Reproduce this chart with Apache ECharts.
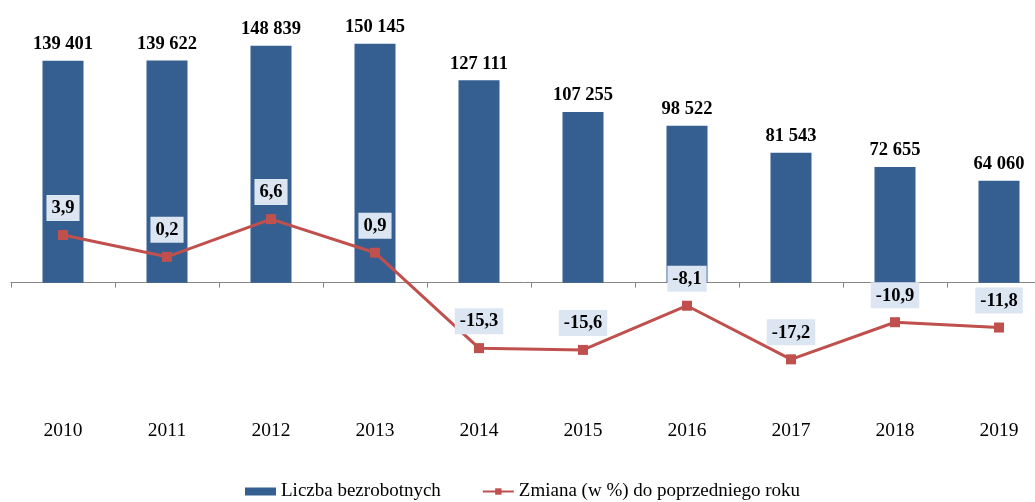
<!DOCTYPE html>
<html>
<head>
<meta charset="utf-8">
<script src="https://cdn.jsdelivr.net/npm/echarts@6/dist/echarts.min.js"></script>
<style>
    html, body { margin: 0; padding: 0; background: #fff; }
    #chart { width: 1035px; height: 502px; }
</style>
</head>
<body>
<div id="chart"></div>
<script>
// lata
const years = ['2010', '2011', '2012', '2013', '2014', '2015', '2016', '2017', '2018', '2019']
// liczba bezrobotnych
const unemployed = [139401, 139622, 148839, 150145, 127111, 107255, 98522, 81543, 72655, 64060]
// zmiana w % do poprzedniego roku
const changePct = [3.9, 0.2, 6.6, 0.9, -15.3, -15.6, -8.1, -17.2, -10.9, -11.8]

const serif = '"Liberation Serif", "Times New Roman", serif'

const chart = echarts.init(document.getElementById('chart'))
chart.setOption({
    animation: false,
    textStyle: { fontFamily: serif },
    grid: { left: 11, top: 20, width: 1040, height: 390, containLabel: false, outerBoundsMode: 'none' },
    legend: {
        top: 482,
        left: 245,
        padding: 0,
        itemWidth: 31,
        itemHeight: 8,
        itemGap: 41,
        textStyle: { fontFamily: serif, fontSize: 19, color: '#000' },
        data: [
            { name: 'Liczba bezrobotnych', icon: 'rect' },
            { name: 'Zmiana (w %) do poprzedniego roku' },
        ],
    },
    xAxis: {
        type: 'category',
        data: years,
        axisLine: { onZero: true, onZeroAxisIndex: 0, lineStyle: { color: '#868686', width: 1 } },
        axisTick: { show: true, length: 5, lineStyle: { color: '#868686' } },
        axisLabel: { margin: 11, fontSize: 19.5, color: '#000', fontFamily: serif },
    },
    yAxis: [
        { type: 'value', min: -80000, max: 165000, show: false, splitLine: { show: false } },
        { type: 'value', min: -25.8, max: 40.4, show: false, splitLine: { show: false } },
    ],
    series: [
        {
            name: 'Liczba bezrobotnych',
            type: 'bar',
            data: unemployed,
            barWidth: 41,
            itemStyle: { color: '#365f91' },
            label: {
                show: true,
                position: 'top',
                distance: 7,
                fontFamily: serif,
                fontSize: 18.5,
                fontWeight: 'bold',
                color: '#000',
                formatter: (p) => String(p.value).replace(/\B(?=(\d{3})+(?!\d))/g, ' '),
            },
        },
        {
            name: 'Zmiana (w %) do poprzedniego roku',
            type: 'line',
            yAxisIndex: 1,
            data: changePct,
            symbol: 'rect',
            symbolSize: 10,
            lineStyle: { color: '#c0504d', width: 3 },
            itemStyle: { color: '#c0504d' },
            label: {
                show: true,
                position: 'top',
                distance: 9,
                fontFamily: serif,
                fontSize: 18.5,
                fontWeight: 'bold',
                color: '#000',
                backgroundColor: '#dce6f2',
                padding: [4, 5, 3, 5],
                formatter: (p) => String(p.value).replace('.', ','),
            },
        },
    ],
})
</script>
</body>
</html>
